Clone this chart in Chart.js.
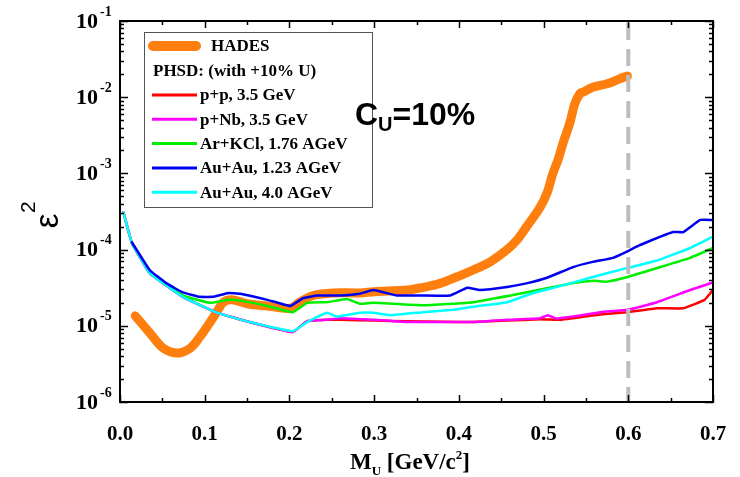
<!DOCTYPE html>
<html><head><meta charset="utf-8">
<script src="https://cdn.jsdelivr.net/npm/chart.js@4/dist/chart.umd.min.js"></script>
<style>html,body{margin:0;padding:0;background:#fff}#wrap{width:740px;height:477px;position:relative}</style>
</head><body><div id="wrap"><canvas id="c" width="740" height="477"></canvas></div>
<script>
// ---- data ----
const hadesMass = [0.018,0.035,0.051,0.068,0.083,0.094,0.106,0.114,0.122,0.132,0.150,0.174,0.201,0.212,0.228,0.252,0.283,0.300,0.339,0.358,0.378,0.398,0.417,0.437,0.457,0.469,0.480,0.496,0.504,0.511,0.517,0.523,0.531,0.537,0.543,0.547,0.558,0.575,0.590,0.599];
const hadesEps  = [1.35e-5,8.1e-6,5.1e-6,4.4e-6,5.1e-6,7.1e-6,1.1e-5,1.5e-5,2.04e-5,2.2e-5,1.95e-5,1.82e-5,1.7e-5,2.04e-5,2.5e-5,2.7e-5,2.7e-5,2.8e-5,2.95e-5,3.2e-5,3.6e-5,4.4e-5,5.4e-5,6.9e-5,1.0e-4,1.35e-4,2.0e-4,3.6e-4,5.5e-4,1.0e-3,1.5e-3,2.5e-3,4.6e-3,8.3e-3,1.12e-2,1.17e-2,1.35e-2,1.5e-2,1.75e-2,1.9e-2];

const ppMass = [0.004,0.014,0.035,0.074,0.115,0.153,0.204,0.221,0.244,0.260,0.300,0.339,0.380,0.417,0.457,0.496,0.520,0.535,0.567,0.599,0.634,0.665,0.690,0.700];
const ppEps  = [3.1e-4,1.23e-4,4.9e-5,2.4e-5,1.48e-5,1.12e-5,8.3e-6,1.15e-5,1.2e-5,1.2e-5,1.17e-5,1.15e-5,1.13e-5,1.12e-5,1.17e-5,1.22e-5,1.2e-5,1.26e-5,1.41e-5,1.51e-5,1.7e-5,1.7e-5,2.19e-5,2.95e-5];

const pNbMass = [0.004,0.014,0.035,0.074,0.115,0.153,0.204,0.221,0.244,0.260,0.300,0.339,0.380,0.417,0.457,0.496,0.505,0.515,0.535,0.567,0.599,0.634,0.673,0.700];
const pNbEps  = [3.1e-4,1.23e-4,4.9e-5,2.4e-5,1.48e-5,1.12e-5,8.3e-6,1.15e-5,1.2e-5,1.26e-5,1.2e-5,1.12e-5,1.12e-5,1.12e-5,1.2e-5,1.26e-5,1.38e-5,1.25e-5,1.32e-5,1.51e-5,1.62e-5,2.04e-5,2.95e-5,3.7e-5];

const arMass = [0.014,0.035,0.074,0.106,0.128,0.142,0.174,0.204,0.221,0.244,0.268,0.283,0.299,0.358,0.417,0.476,0.535,0.560,0.575,0.599,0.638,0.673,0.700];
const arEps  = [1.2e-4,5.1e-5,2.5e-5,2.0e-5,2.19e-5,2.14e-5,1.82e-5,1.51e-5,2.0e-5,2.04e-5,2.24e-5,1.95e-5,2.0e-5,1.86e-5,2.04e-5,2.7e-5,3.63e-5,3.9e-5,3.8e-5,4.37e-5,5.9e-5,7.8e-5,1.05e-4];

const au123Mass = [0.014,0.035,0.055,0.074,0.094,0.110,0.128,0.142,0.174,0.201,0.216,0.233,0.260,0.283,0.299,0.327,0.354,0.390,0.410,0.425,0.457,0.481,0.504,0.535,0.558,0.582,0.599,0.614,0.638,0.653,0.665,0.685,0.700];
const au123Eps  = [1.25e-4,5.4e-5,3.6e-5,2.75e-5,2.4e-5,2.4e-5,2.7e-5,2.63e-5,2.19e-5,1.82e-5,2.3e-5,2.5e-5,2.5e-5,2.63e-5,2.95e-5,2.5e-5,2.5e-5,2.5e-5,3.16e-5,2.95e-5,3.24e-5,3.63e-5,4.27e-5,5.9e-5,6.9e-5,7.8e-5,9.5e-5,1.15e-4,1.48e-4,1.7e-4,1.7e-4,2.45e-4,2.45e-4];

const au40Mass = [0.004,0.014,0.035,0.074,0.115,0.153,0.204,0.221,0.244,0.256,0.283,0.299,0.319,0.358,0.393,0.417,0.457,0.488,0.516,0.555,0.599,0.634,0.673,0.700];
const au40Eps  = [3.1e-4,1.23e-4,4.9e-5,2.4e-5,1.48e-5,1.12e-5,8.5e-6,1.12e-5,1.48e-5,1.32e-5,1.48e-5,1.48e-5,1.38e-5,1.51e-5,1.62e-5,1.78e-5,2.04e-5,2.7e-5,3.24e-5,4.27e-5,5.75e-5,7.2e-5,1.05e-4,1.48e-4];

const seriesLabels = ["HADES","p+p, 3.5 GeV","p+Nb, 3.5 GeV","Ar+KCl, 1.76 AGeV","Au+Au, 1.23 AGeV","Au+Au, 4.0 AGeV"];
const legendHeader = "PHSD: (with +10% U)";
const xTickValues = [0,0.1,0.2,0.3,0.4,0.5,0.6,0.7];
const xTickLabels = ["0.0","0.1","0.2","0.3","0.4","0.5","0.6","0.7"];
const yTickExponents = [-6,-5,-4,-3,-2,-1];
const cutMass = 0.6;
const annotationMain = "C", annotationSub = "U", annotationRest = "=10%";

const pts = (xs, ys) => xs.map((x, i) => ({x, y: ys[i]}));
const colors = ["#FF7F0E","#FF0000","#FF00FF","#00EE00","#0000F0","#00FFFF"];

const SERIF = '"Liberation Serif", "Times New Roman", serif';
const SANS = '"Liberation Sans", Arial, sans-serif';

const framePlugin = {
  id: 'frame',
  afterDatasetsDraw(chart) {
    const ctx = chart.ctx, a = chart.chartArea, xs = chart.scales.x, ys = chart.scales.y;
    ctx.save();
    // dashed cut line
    const xc = xs.getPixelForValue(cutMass);
    ctx.strokeStyle = '#BDBDBD'; ctx.lineWidth = 4; ctx.setLineDash([17, 9]);
    ctx.beginPath(); ctx.moveTo(xc, a.top + 2); ctx.lineTo(xc, a.bottom); ctx.stroke();
    ctx.setLineDash([]);
    // frame
    ctx.strokeStyle = '#000'; ctx.lineWidth = 2;
    ctx.strokeRect(a.left, a.top, a.right - a.left, a.bottom - a.top);
    ctx.lineWidth = 1.5;
    // x ticks (bottom & top), inward
    for (let i = 0; i <= 14; i++) {
      const v = i * 0.05, px = Math.round(xs.getPixelForValue(v)) + 0.5;
      const len = (i % 2 === 0) ? 7 : 4;
      ctx.beginPath();
      ctx.moveTo(px, a.bottom); ctx.lineTo(px, a.bottom - len);
      ctx.moveTo(px, a.top); ctx.lineTo(px, a.top + len);
      ctx.stroke();
    }
    // y ticks (left & right), inward
    for (const e of yTickExponents) {
      for (let m = 1; m <= 9; m++) {
        if (e === -1 && m > 1) break;
        const py = Math.round(ys.getPixelForValue(m * Math.pow(10, e))) + 0.5;
        const len = m === 1 ? 8 : 4;
        ctx.beginPath();
        ctx.moveTo(a.left, py); ctx.lineTo(a.left + len, py);
        ctx.moveTo(a.right, py); ctx.lineTo(a.right - len, py);
        ctx.stroke();
      }
    }
    // x tick labels
    ctx.fillStyle = '#000';
    ctx.font = 'bold 21px ' + SERIF; ctx.textAlign = 'center'; ctx.textBaseline = 'alphabetic';
    xTickValues.forEach((v, i) => ctx.fillText(xTickLabels[i], xs.getPixelForValue(v), 440));
    // y tick labels 10^e
    yTickExponents.forEach(e => {
      const py = ys.getPixelForValue(Math.pow(10, e));
      ctx.font = 'bold 22px ' + SERIF; ctx.textAlign = 'right'; ctx.textBaseline = 'middle';
      ctx.fillText('10', 98, py + 1);
      ctx.font = 'bold 14px ' + SERIF; ctx.textAlign = 'left';
      ctx.fillText(String(e), 100, py - 9);
    });
    // x title
    ctx.textBaseline = 'alphabetic'; ctx.textAlign = 'left';
    const parts = [['M', 'bold 23px', 0], ['U', 'bold 13px', 6], [' [GeV/c', 'bold 23px', 0], ['2', 'bold 13px', -10], [']', 'bold 23px', 0]];
    let tw = 0;
    parts.forEach(p => { ctx.font = p[1] + ' ' + SERIF; tw += ctx.measureText(p[0]).width; });
    let tx = 410 - tw / 2;
    parts.forEach(p => { ctx.font = p[1] + ' ' + SERIF; ctx.fillText(p[0], tx, 469 + p[2]); tx += ctx.measureText(p[0]).width; });
    // y title (rotated)
    ctx.save();
    ctx.translate(58, 221); ctx.rotate(-Math.PI / 2);
    ctx.font = '33px ' + SANS; ctx.textAlign = 'center';
    ctx.fillText('\u03B5', 0, 0);
    ctx.font = '21px ' + SANS; ctx.textAlign = 'left';
    ctx.fillText('2', 8, -23);
    ctx.restore();
    // legend
    ctx.fillStyle = '#fff'; ctx.fillRect(144, 32, 228, 175);
    ctx.strokeStyle = '#555'; ctx.lineWidth = 1; ctx.strokeRect(144.5, 32.5, 228, 175);
    ctx.fillStyle = '#000'; ctx.font = 'bold 17px ' + SERIF; ctx.textBaseline = 'middle';
    const ds = chart.data.datasets;
    ctx.strokeStyle = ds[0].borderColor; ctx.lineWidth = 10; ctx.lineCap = 'round';
    ctx.beginPath(); ctx.moveTo(153, 46); ctx.lineTo(196, 46); ctx.stroke();
    ctx.fillText(ds[0].label, 211, 47);
    ctx.fillText(legendHeader, 153, 72);
    ctx.lineCap = 'butt'; ctx.lineWidth = 3;
    for (let i = 1; i < ds.length; i++) {
      const y = 95 + (i - 1) * 24.3;
      ctx.strokeStyle = ds[i].borderColor;
      ctx.beginPath(); ctx.moveTo(152, y); ctx.lineTo(197, y); ctx.stroke();
      ctx.fillText(ds[i].label, 200, y + 1);
    }
    // annotation C_U=10% (drawn over the legend border)
    ctx.textBaseline = 'alphabetic'; ctx.textAlign = 'left'; ctx.fillStyle = '#000';
    ctx.font = 'bold 32px ' + SANS;
    let ax = 355;
    ctx.fillText(annotationMain, ax, 125); ax += ctx.measureText(annotationMain).width;
    ctx.font = 'bold 20px ' + SANS;
    ctx.fillText(annotationSub, ax, 131); ax += ctx.measureText(annotationSub).width;
    ctx.font = 'bold 32px ' + SANS;
    ctx.fillText(annotationRest, ax, 125);
    ctx.restore();
  }
};

const mk = (i, xs, ys, w, order, tension) => ({
  label: seriesLabels[i], data: pts(xs, ys), borderColor: colors[i], backgroundColor: colors[i],
  borderWidth: w, pointRadius: 0, tension: tension, order: order, fill: false,
  borderCapStyle: 'round', borderJoinStyle: 'round'
});

new Chart(document.getElementById('c'), {
  type: 'line',
  data: { datasets: [
    mk(0, hadesMass, hadesEps, 9, 10, 0.35),
    mk(1, ppMass, ppEps, 2.5, 6, 0.1),
    mk(2, pNbMass, pNbEps, 2.5, 5, 0.1),
    mk(3, arMass, arEps, 2.5, 4, 0.1),
    mk(4, au123Mass, au123Eps, 2.5, 2, 0.1),
    mk(5, au40Mass, au40Eps, 2.5, 3, 0.1)
  ]},
  options: {
    responsive: false, animation: false, devicePixelRatio: 1,
    layout: { padding: { left: 120, right: 27, top: 21, bottom: 75 } },
    plugins: { legend: { display: false }, tooltip: { enabled: false } },
    scales: {
      x: { type: 'linear', min: 0, max: 0.7, display: false },
      y: { type: 'logarithmic', min: 1e-6, max: 1e-1, display: false }
    }
  },
  plugins: [framePlugin]
});
</script></body></html>
